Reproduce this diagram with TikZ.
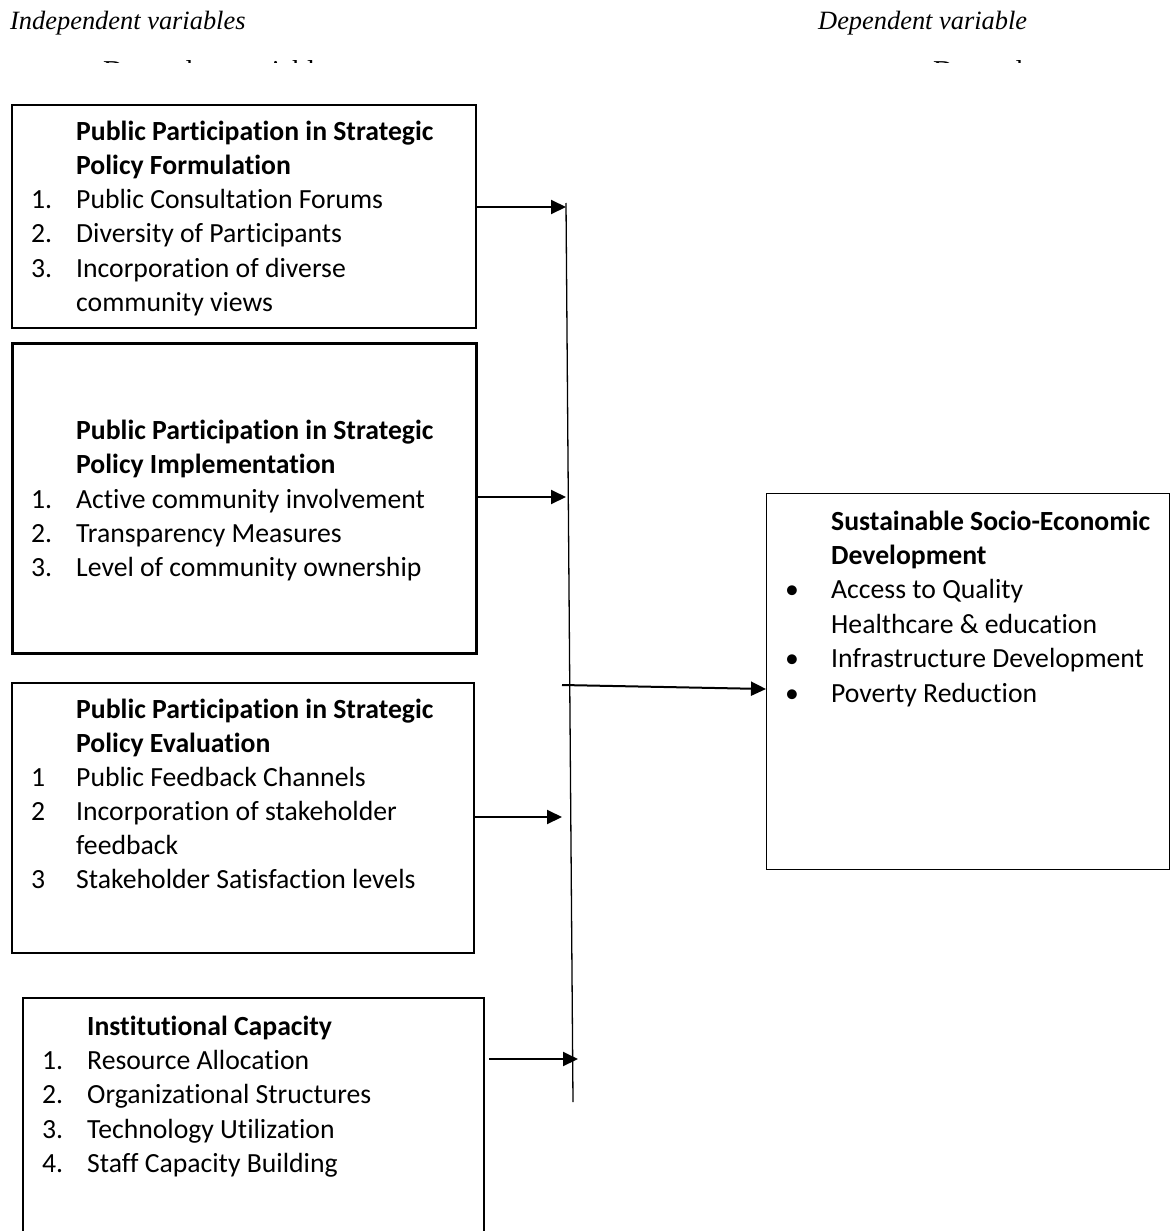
\documentclass[tikz,border=0pt]{standalone}
\usepackage{fontspec}
\setmainfont{Carlito}[Ligatures=NoCommon]
\newfontfamily\timesf{Liberation Serif}
\usetikzlibrary{arrows.meta}
\begin{document}
\begin{tikzpicture}[x=1pt,y=-1pt,
  boxline/.style={draw=black, line width=#1, fill=none, inner sep=0pt, anchor=north west},
  txt/.style={anchor=base west, inner sep=0pt, font=\fontsize{27.7}{34}\selectfont},
  ttl/.style={anchor=base west, inner sep=0pt, font=\fontsize{27.7}{34}\selectfont\bfseries},
  bul/.style={anchor=base, inner sep=0pt, font=\fontsize{27.7}{34}\selectfont},
  conn/.style={line width=2pt, -{Triangle[length=15pt,width=14pt]}},
  hdr/.style={anchor=base west, inner sep=0pt, font=\timesf\itshape\fontsize{26.4}{30}\selectfont},
  ghost/.style={anchor=base west, inner sep=0pt, font=\timesf\fontsize{28.8}{32}\selectfont},
]
\path[use as bounding box] (0,0) rectangle (1172,1231);
\clip (0,0) rectangle (1172,1231);

% headers
\node[hdr] (hind) at (10,30) {Independent variables};
\node[hdr] (hdep) at (818,30) {Dependent variable};
\begin{scope}
  \clip (0,55) rectangle (1172,62.6);
  \node[ghost] (gl) at (103,80.8) {Dependent variable};
  \node[ghost] (gr) at (933,80.8) {Dependent};
\end{scope}

% boxes
\node[boxline=1.5pt, minimum width=464pt, minimum height=223pt] (b1) at (11,104) {};
\node[boxline=2.5pt, minimum width=464pt, minimum height=310pt] (b2) at (11,342) {};
\node[boxline=1.5pt, minimum width=462pt, minimum height=270pt] (b3) at (11,682) {};
\node[boxline=1.5pt, minimum width=461pt, minimum height=260pt] (b4) at (22,997) {};
\node[boxline=1.3pt, minimum width=403pt, minimum height=376pt] (b5) at (766,493) {};

% box 1 text
\node[ttl] (b1t1) at (76,140) {Public Participation in Strategic};
\node[ttl] (b1t2) at (76,174.3) {Policy Formulation};
\node[txt] (b1n1) at (31,208.6) {1.};
\node[txt] (b1i1) at (76,208.6) {Public Consultation Forums};
\node[txt] (b1n2) at (31,242.9) {2.};
\node[txt] (b1i2) at (76,242.9) {Diversity of Participants};
\node[txt] (b1n3) at (31,277.2) {3.};
\node[txt] (b1i3) at (76,277.2) {Incorporation of diverse};
\node[txt] (b1i3b) at (76,311.5) {community views};

% box 2 text
\node[ttl] (b2t1) at (76,439.5) {Public Participation in Strategic};
\node[ttl] (b2t2) at (76,473.8) {Policy Implementation};
\node[txt] (b2n1) at (31,508.1) {1.};
\node[txt] (b2i1) at (76,508.1) {Active community involvement};
\node[txt] (b2n2) at (31,542.4) {2.};
\node[txt] (b2i2) at (76,542.4) {Transparency Measures};
\node[txt] (b2n3) at (31,576.7) {3.};
\node[txt] (b2i3) at (76,576.7) {Level of community ownership};

% box 3 text
\node[ttl] (b3t1) at (76,718) {Public Participation in Strategic};
\node[ttl] (b3t2) at (76,752) {Policy Evaluation};
\node[txt] (b3n1) at (31,786) {1};
\node[txt] (b3i1) at (76,786) {Public Feedback Channels};
\node[txt] (b3n2) at (31,820) {2};
\node[txt] (b3i2) at (76,820) {Incorporation of stakeholder};
\node[txt] (b3i2b) at (76,854) {feedback};
\node[txt] (b3n3) at (31,888) {3};
\node[txt] (b3i3) at (76,888) {Stakeholder Satisfaction levels};

% box 4 text
\node[ttl] (b4t1) at (87,1035) {Institutional Capacity};
\node[txt] (b4n1) at (42,1069) {1.};
\node[txt] (b4i1) at (87,1069) {Resource Allocation};
\node[txt] (b4n2) at (42,1103.5) {2.};
\node[txt] (b4i2) at (87,1103.5) {Organizational Structures};
\node[txt] (b4n3) at (42,1138) {3.};
\node[txt] (b4i3) at (87,1138) {Technology Utilization};
\node[txt] (b4n4) at (42,1172) {4.};
\node[txt] (b4i4) at (87,1172) {Staff Capacity Building};

% box 5 text
\node[ttl] (b5t1) at (831,530) {Sustainable Socio-Economic};
\node[ttl] (b5t2) at (831,564.4) {Development};
\node[bul] (b5b1) at (792,598.8) {\textbullet};
\node[txt] (b5i1) at (831,598.8) {Access to Quality};
\node[txt] (b5i1b) at (831,633.2) {Healthcare \& education};
\node[bul] (b5b2) at (792,667.6) {\textbullet};
\node[txt] (b5i2) at (831,667.6) {Infrastructure Development};
\node[bul] (b5b3) at (792,702) {\textbullet};
\node[txt] (b5i3) at (831,702) {Poverty Reduction};

% connectors
\coordinate (vtop) at (566,203);
\coordinate (vbot) at (573,1102);
\draw[line width=1.3pt] (vtop) -- (vbot);
\coordinate (e1) at (566,207);
\draw[conn] (b1.east |- e1) -- (e1);
\coordinate (e2) at (566,497);
\draw[conn] (b2.east |- e2) -- (e2);
\coordinate (s3) at (562,685);
\coordinate (e3) at (765,689);
\draw[conn] (s3) -- (b5.west |- e3);
\coordinate (e4) at (562,817);
\draw[conn] (b3.east |- e4) -- (e4);
\coordinate (s5) at (489,1059);
\coordinate (e5) at (578,1059);
\draw[conn] (s5) -- (e5);
\end{tikzpicture}
\end{document}
